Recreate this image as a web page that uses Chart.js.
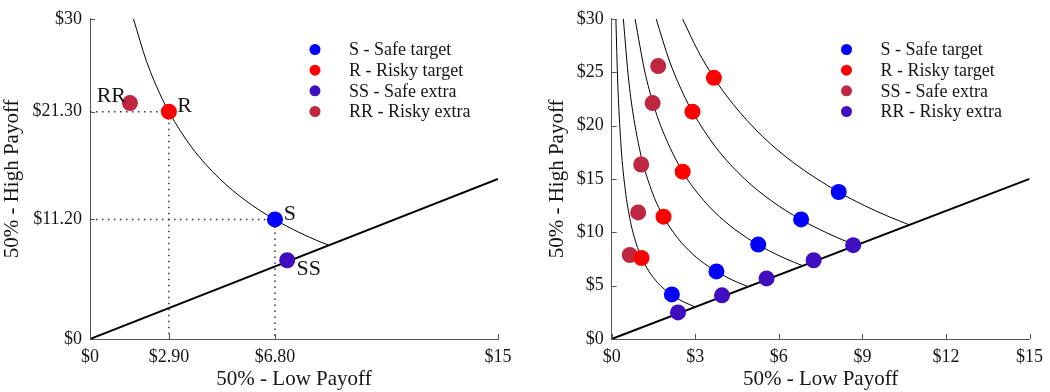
<!DOCTYPE html>
<html>
<head>
<meta charset="utf-8">
<script src="https://cdn.jsdelivr.net/npm/chart.js@4/dist/chart.umd.min.js"></script>
<style>
  html, body { margin: 0; padding: 0; background: #fff; }
  body { width: 1050px; height: 392px; overflow: hidden; display: flex; }
  .panel { position: relative; width: 525px; height: 392px; }
</style>
</head>
<body>
<div class="panel"><canvas id="single" width="525" height="392"></canvas></div>
<div class="panel"><canvas id="menus" width="525" height="392"></canvas></div>
<script>
// ---------- Single choice set ----------
const singleXTicks = [0, 2.9, 6.8, 15];
const singleXLabels = ['$0', '$2.90', '$6.80', '$15'];
const singleYTicks = [0, 11.2, 21.3, 30];
const singleYLabels = ['$0', '$11.20', '$21.30', '$30'];

const singleSafe = [6.8, 11.2];        // S  (low, high)
const singleRisky = [2.9, 21.3];       // R
const singleSafeExtra = [7.25, 7.38];  // SS
const singleRiskyExtra = [1.47, 22.1]; // RR

// indifference curve through R and S
const singleCurveX = [1.596, 2.080, 2.562, 2.897, 3.726, 4.772, 5.706, 6.783, 7.676, 8.279, 8.78];
const singleCurveY = [30, 26, 23, 21.3, 18, 15, 13, 11.2, 10, 9.3, 8.78];

// ---------- Five choice sets ----------
const menuXTicks = [0, 3, 6, 9, 12, 15];
const menuXLabels = ['$0', '$3', '$6', '$9', '$12', '$15'];
const menuYTicks = [0, 5, 10, 15, 20, 25, 30];
const menuYLabels = ['$0', '$5', '$10', '$15', '$20', '$25', '$30'];

const safeTargetX = [2.16, 3.76, 5.26, 6.8, 8.15];
const safeTargetY = [4.18, 6.33, 8.85, 11.2, 13.77];
const riskyTargetX = [1.07, 1.86, 2.55, 2.9, 3.67];
const riskyTargetY = [7.59, 11.46, 15.68, 21.3, 24.47];
const leftExtraX = [0.65, 0.95, 1.06, 1.47, 1.67];
const leftExtraY = [7.87, 11.86, 16.35, 22.1, 25.57];
const diagExtraX = [2.38, 3.96, 5.56, 7.25, 8.67];
const diagExtraY = [2.49, 4.09, 5.68, 7.38, 8.79];

const curve1X = [0.150, 0.217, 0.338, 0.485, 0.674, 0.873, 1.094, 1.346, 1.641, 1.966, 2.231, 2.565, 3.0];
const curve1Y = [30, 24, 18, 14, 11, 9, 7.5, 6.3, 5.3, 4.5, 4.0, 3.5, 3.0];
const curve2X = [0.417, 0.620, 0.984, 1.420, 1.850, 2.355, 2.890, 3.473, 4.121, 4.525, 4.9];
const curve2Y = [30, 24, 18, 14, 11.5, 9.5, 8.0, 6.8, 5.8, 5.3, 4.9];
const curve3X = [0.838, 1.193, 1.497, 1.755, 2.473, 3.295, 4.072, 4.842, 5.627, 6.265, 6.86];
const curve3Y = [30, 25, 22, 20, 16, 13, 11, 9.5, 8.3, 7.5, 6.86];
const curve4X = singleCurveX;
const curve4Y = singleCurveY;
const curve5X = [2.543, 3.097, 3.672, 4.357, 5.408, 6.535, 8.144, 9.076, 9.920, 10.69];
const curve5Y = [30, 27, 24.47, 22, 19, 16.5, 13.77, 12.5, 11.5, 10.69];

// equal-payoff line
const diagonalX = [0, 15];
const diagonalY = [0, 15];

// ---------- styling ----------
const FONT = "'Liberation Serif', 'DejaVu Serif', serif";
const TEXT = '#151515';
const AXIS = '#555555';
const BLUE = '#0000ff';
const RED = '#ff0000';
const PURPLE = '#400dbf';
const CRIMSON = '#bf2640';

const pts = (xs, ys) => xs.map((x, i) => ({ x, y: ys[i] }));

function markers(label, xs, ys, color, order, legendRow) {
  return {
    label, data: pts(xs, ys), legendRow,
    backgroundColor: color, borderWidth: 0,
    pointRadius: 8, pointHoverRadius: 8, pointStyle: 'circle',
    showLine: false, order
  };
}
function curve(xs, ys) {
  return {
    data: pts(xs, ys), showLine: true, borderColor: '#000', borderWidth: 1,
    pointRadius: 0, cubicInterpolationMode: 'monotone', fill: false, order: 4
  };
}
function diagonal() {
  return {
    data: pts(diagonalX, diagonalY), showLine: true, borderColor: '#000', borderWidth: 2,
    pointRadius: 0, tension: 0, fill: false, order: 3
  };
}
function guide(p) {
  return {
    data: [{ x: 0, y: p[1] }, { x: p[0], y: p[1] }, { x: p[0], y: 0 }],
    showLine: true, borderColor: '#333', borderWidth: 1.5, borderDash: [1.5, 4.5],
    pointRadius: 0, tension: 0, fill: false, order: 5
  };
}

// small tick marks pointing into the plot
const inwardTicks = {
  id: 'inwardTicks',
  afterDraw(chart) {
    const { ctx, chartArea: a, scales: { x, y } } = chart;
    ctx.save();
    ctx.strokeStyle = AXIS;
    ctx.lineWidth = 1;
    ctx.beginPath();
    x.ticks.forEach(t => {
      const px = Math.round(x.getPixelForValue(t.value)) + 0.5;
      ctx.moveTo(px, a.bottom); ctx.lineTo(px, a.bottom - 5);
    });
    y.ticks.forEach(t => {
      const py = Math.round(y.getPixelForValue(t.value)) + 0.5;
      ctx.moveTo(a.left, py); ctx.lineTo(a.left + 5, py);
    });
    ctx.stroke();
    ctx.restore();
  }
};

// legend drawn inside the plot, anchored to the right edge
const menuLegend = {
  id: 'menuLegend',
  afterDraw(chart) {
    const { ctx, chartArea: a } = chart;
    const rows = chart.data.datasets.filter(d => d.legendRow !== undefined)
      .sort((p, q) => p.legendRow - q.legendRow);
    ctx.save();
    ctx.font = `18px ${FONT}`;
    ctx.textAlign = 'left';
    ctx.textBaseline = 'middle';
    rows.forEach((d, i) => {
      const cy = a.top + 30.7 + i * 20.67;
      ctx.beginPath();
      ctx.arc(a.right - 183, cy, 5.5, 0, Math.PI * 2);
      ctx.fillStyle = d.backgroundColor;
      ctx.fill();
      ctx.fillStyle = TEXT;
      ctx.fillText(d.label, a.right - 149, cy + 1);
    });
    ctx.restore();
  }
};

// letter tags next to the single-set points
const pointTags = {
  id: 'pointTags',
  afterDatasetsDraw(chart, args, opts) {
    if (!opts || !opts.items) return;
    const { ctx, scales: { x, y } } = chart;
    ctx.save();
    ctx.font = `22px ${FONT}`;
    ctx.fillStyle = TEXT;
    ctx.textBaseline = 'alphabetic';
    opts.items.forEach(it => {
      ctx.textAlign = it.align;
      ctx.fillText(it.text, x.getPixelForValue(it.at[0]) + it.dx, y.getPixelForValue(it.at[1]) + it.dy);
    });
    ctx.restore();
  }
};

function axis(min, max, ticks, labels, isX, size, title) {
  return {
    type: 'linear', min, max,
    afterBuildTicks: s => { s.ticks = ticks.map(v => ({ value: v })); },
    afterFit: s => { if (isX) s.height = size; else s.width = size; },
    grid: { display: false, drawTicks: false },
    border: { display: true, color: AXIS, width: 1 },
    ticks: {
      autoSkip: false, maxRotation: 0, padding: isX ? 7 : 8,
      color: TEXT, font: { family: FONT, size: 18 },
      callback: (v, i) => labels[i]
    },
    title: { display: true, text: title, color: TEXT, padding: 0, font: { family: FONT, size: 21 } }
  };
}

function build(id, datasets, xs, ys, padding, yWidth, tags) {
  return new Chart(document.getElementById(id), {
    type: 'scatter',
    data: { datasets },
    options: {
      responsive: false, animation: false, events: [],
      layout: { padding },
      scales: {
        x: axis(0, 15, xs.ticks, xs.labels, true, 53, '50% - Low Payoff'),
        y: axis(0, 30, ys.ticks, ys.labels, false, yWidth, '50% - High Payoff')
      },
      plugins: { legend: { display: false }, tooltip: { enabled: false }, pointTags: { items: tags } }
    },
    plugins: [inwardTicks, menuLegend, pointTags]
  });
}

build('single', [
  markers('S - Safe target', [singleSafe[0]], [singleSafe[1]], BLUE, 0, 0),
  markers('R - Risky target', [singleRisky[0]], [singleRisky[1]], RED, 0, 1),
  markers('SS - Safe extra', [singleSafeExtra[0]], [singleSafeExtra[1]], PURPLE, 1, 2),
  markers('RR - Risky extra', [singleRiskyExtra[0]], [singleRiskyExtra[1]], CRIMSON, 1, 3),
  diagonal(),
  curve(singleCurveX, singleCurveY),
  guide(singleRisky),
  guide(singleSafe)
], { ticks: singleXTicks, labels: singleXLabels }, { ticks: singleYTicks, labels: singleYLabels },
  { top: 14, left: 0, right: 27, bottom: 0 }, 90,
  [
    { text: 'S', at: singleSafe, dx: 8.7, dy: 1, align: 'left' },
    { text: 'R', at: singleRisky, dx: 8.3, dy: 0.7, align: 'left' },
    { text: 'SS', at: singleSafeExtra, dx: 9.4, dy: 14.7, align: 'left' },
    { text: 'RR', at: singleRiskyExtra, dx: -4, dy: -1, align: 'right' }
  ]);

build('menus', [
  markers('S - Safe target', safeTargetX, safeTargetY, BLUE, 0, 0),
  markers('R - Risky target', riskyTargetX, riskyTargetY, RED, 0, 1),
  markers('SS - Safe extra', leftExtraX, leftExtraY, CRIMSON, 2, 2),
  markers('RR - Risky extra', diagExtraX, diagExtraY, PURPLE, 1, 3),
  diagonal(),
  curve(curve1X, curve1Y),
  curve(curve2X, curve2Y),
  curve(curve3X, curve3Y),
  curve(curve4X, curve4Y),
  curve(curve5X, curve5Y)
], { ticks: menuXTicks, labels: menuXLabels }, { ticks: menuYTicks, labels: menuYLabels },
  { top: 14, left: 20, right: 13.3, bottom: 0 }, 66.7, []);
</script>
</body>
</html>
